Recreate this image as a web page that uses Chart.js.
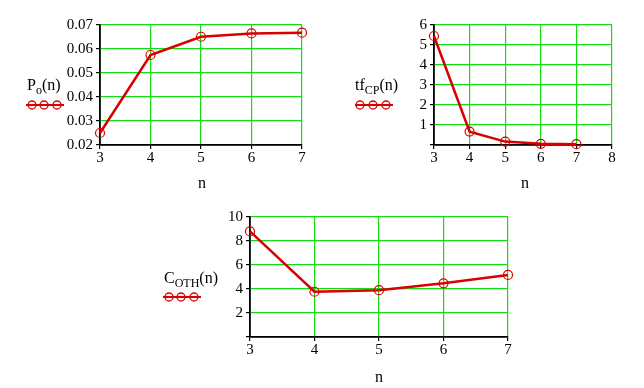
<!DOCTYPE html>
<html><head><meta charset="utf-8">
<script src="https://cdn.jsdelivr.net/npm/chart.js@4"></script>
<style>
html,body{margin:0;padding:0;background:#fff;width:644px;height:388px;overflow:hidden;font-family:"Liberation Serif","Times New Roman",serif;}
.box{position:absolute;}
.lbl{position:absolute;font-size:16px;color:#000;white-space:nowrap;line-height:1;}
.lbl sub{font-size:12px;vertical-align:-4px;}
.sym{position:absolute;}
</style></head><body>
<div class="box" style="left:0;top:0;width:320px;height:200px"><canvas id="c1" width="320" height="200"></canvas></div>
<div class="box" style="left:320px;top:0;width:324px;height:200px"><canvas id="c2" width="324" height="200"></canvas></div>
<div class="box" style="left:150px;top:200px;width:380px;height:188px"><canvas id="c3" width="380" height="188"></canvas></div>

<div class="lbl" style="left:27px;top:77px">P<sub>o</sub>(n)</div>
<svg class="sym" style="left:24px;top:99px" width="42" height="12"><line x1="2" y1="6" x2="40" y2="6" stroke="#d80000" stroke-width="2"/><circle cx="8" cy="6" r="4" fill="none" stroke="#d80000" stroke-width="1.3"/><circle cx="20" cy="6" r="4" fill="none" stroke="#d80000" stroke-width="1.3"/><circle cx="33" cy="6" r="4" fill="none" stroke="#d80000" stroke-width="1.3"/></svg>

<div class="lbl" style="left:355px;top:77px">tf<sub>СР</sub>(n)</div>
<svg class="sym" style="left:353px;top:99px" width="42" height="12"><line x1="2" y1="6" x2="40" y2="6" stroke="#d80000" stroke-width="2"/><circle cx="7" cy="6" r="4" fill="none" stroke="#d80000" stroke-width="1.3"/><circle cx="20" cy="6" r="4" fill="none" stroke="#d80000" stroke-width="1.3"/><circle cx="33" cy="6" r="4" fill="none" stroke="#d80000" stroke-width="1.3"/></svg>

<div class="lbl" style="left:164px;top:270px">C<sub>ОТН</sub>(n)</div>
<svg class="sym" style="left:161px;top:291px" width="42" height="12"><line x1="2" y1="6" x2="40" y2="6" stroke="#d80000" stroke-width="2"/><circle cx="8" cy="6" r="4" fill="none" stroke="#d80000" stroke-width="1.3"/><circle cx="20" cy="6" r="4" fill="none" stroke="#d80000" stroke-width="1.3"/><circle cx="33" cy="6" r="4" fill="none" stroke="#d80000" stroke-width="1.3"/></svg>

<div class="lbl" style="left:198px;top:175px">n</div>
<div class="lbl" style="left:521px;top:175px">n</div>
<div class="lbl" style="left:375px;top:369px">n</div>

<script>
const nValues = [3, 4, 5, 6, 7];
const poValues = [0.025, 0.0575, 0.0651, 0.0665, 0.0668];
const tfValues = [5.45, 0.67, 0.17, 0.06, 0.04];
const cotnValues = [8.8, 3.77, 3.9, 4.47, 5.17];

const RED = '#d80000';
const GREEN = '#14dc14';
const FONT = {family: '"Liberation Serif","Times New Roman",serif', size: 15};

function makeChart(id, vals, xmax, ymin, ymax, ystep, yfmt, yWidth, pad) {
  new Chart(document.getElementById(id), {
    type: 'line',
    data: {
      datasets: [{
        data: nValues.map((x, i) => ({x: x, y: vals[i]})),
        borderColor: RED,
        borderWidth: 2.5,
        pointRadius: 4.5,
        pointBorderWidth: 1.2,
        pointBorderColor: RED,
        pointBackgroundColor: 'rgba(0,0,0,0)',
        tension: 0,
        clip: false
      }]
    },
    options: {
      responsive: false,
      animation: false,
      devicePixelRatio: 1,
      layout: {padding: pad},
      plugins: {legend: {display: false}, tooltip: {enabled: false}},
      scales: {
        x: {
          type: 'linear', min: 3, max: xmax,
          ticks: {stepSize: 1, autoSkip: false, color: '#000', font: FONT, padding: 0, maxRotation: 0},
          grid: {color: GREEN, lineWidth: 1.2, tickColor: '#000', tickLength: 4},
          border: {color: '#000', width: 1.8},
          afterFit: s => { s.height = 20; }
        },
        y: {
          min: ymin, max: ymax,
          ticks: {stepSize: ystep, autoSkip: false, color: '#000', font: FONT, padding: 3, callback: yfmt},
          grid: {color: GREEN, lineWidth: 1.2, tickColor: '#000', tickLength: 4},
          border: {color: '#000', width: 1.8},
          afterFit: s => { s.width = yWidth; }
        }
      }
    }
  });
}

makeChart('c1', poValues, 7, 0.02, 0.07, 0.01, v => v.toFixed(2), 100, {left: 0, right: 18, top: 25, bottom: 35});
makeChart('c2', tfValues, 8, 0, 6, 1, v => v === 0 ? '' : String(v), 114, {left: 0, right: 32, top: 25, bottom: 35});
makeChart('c3', cotnValues, 7, 0, 10, 2, v => v === 0 ? '' : String(v), 100, {left: 0, right: 22, top: 17, bottom: 31});
</script>
</body></html>
